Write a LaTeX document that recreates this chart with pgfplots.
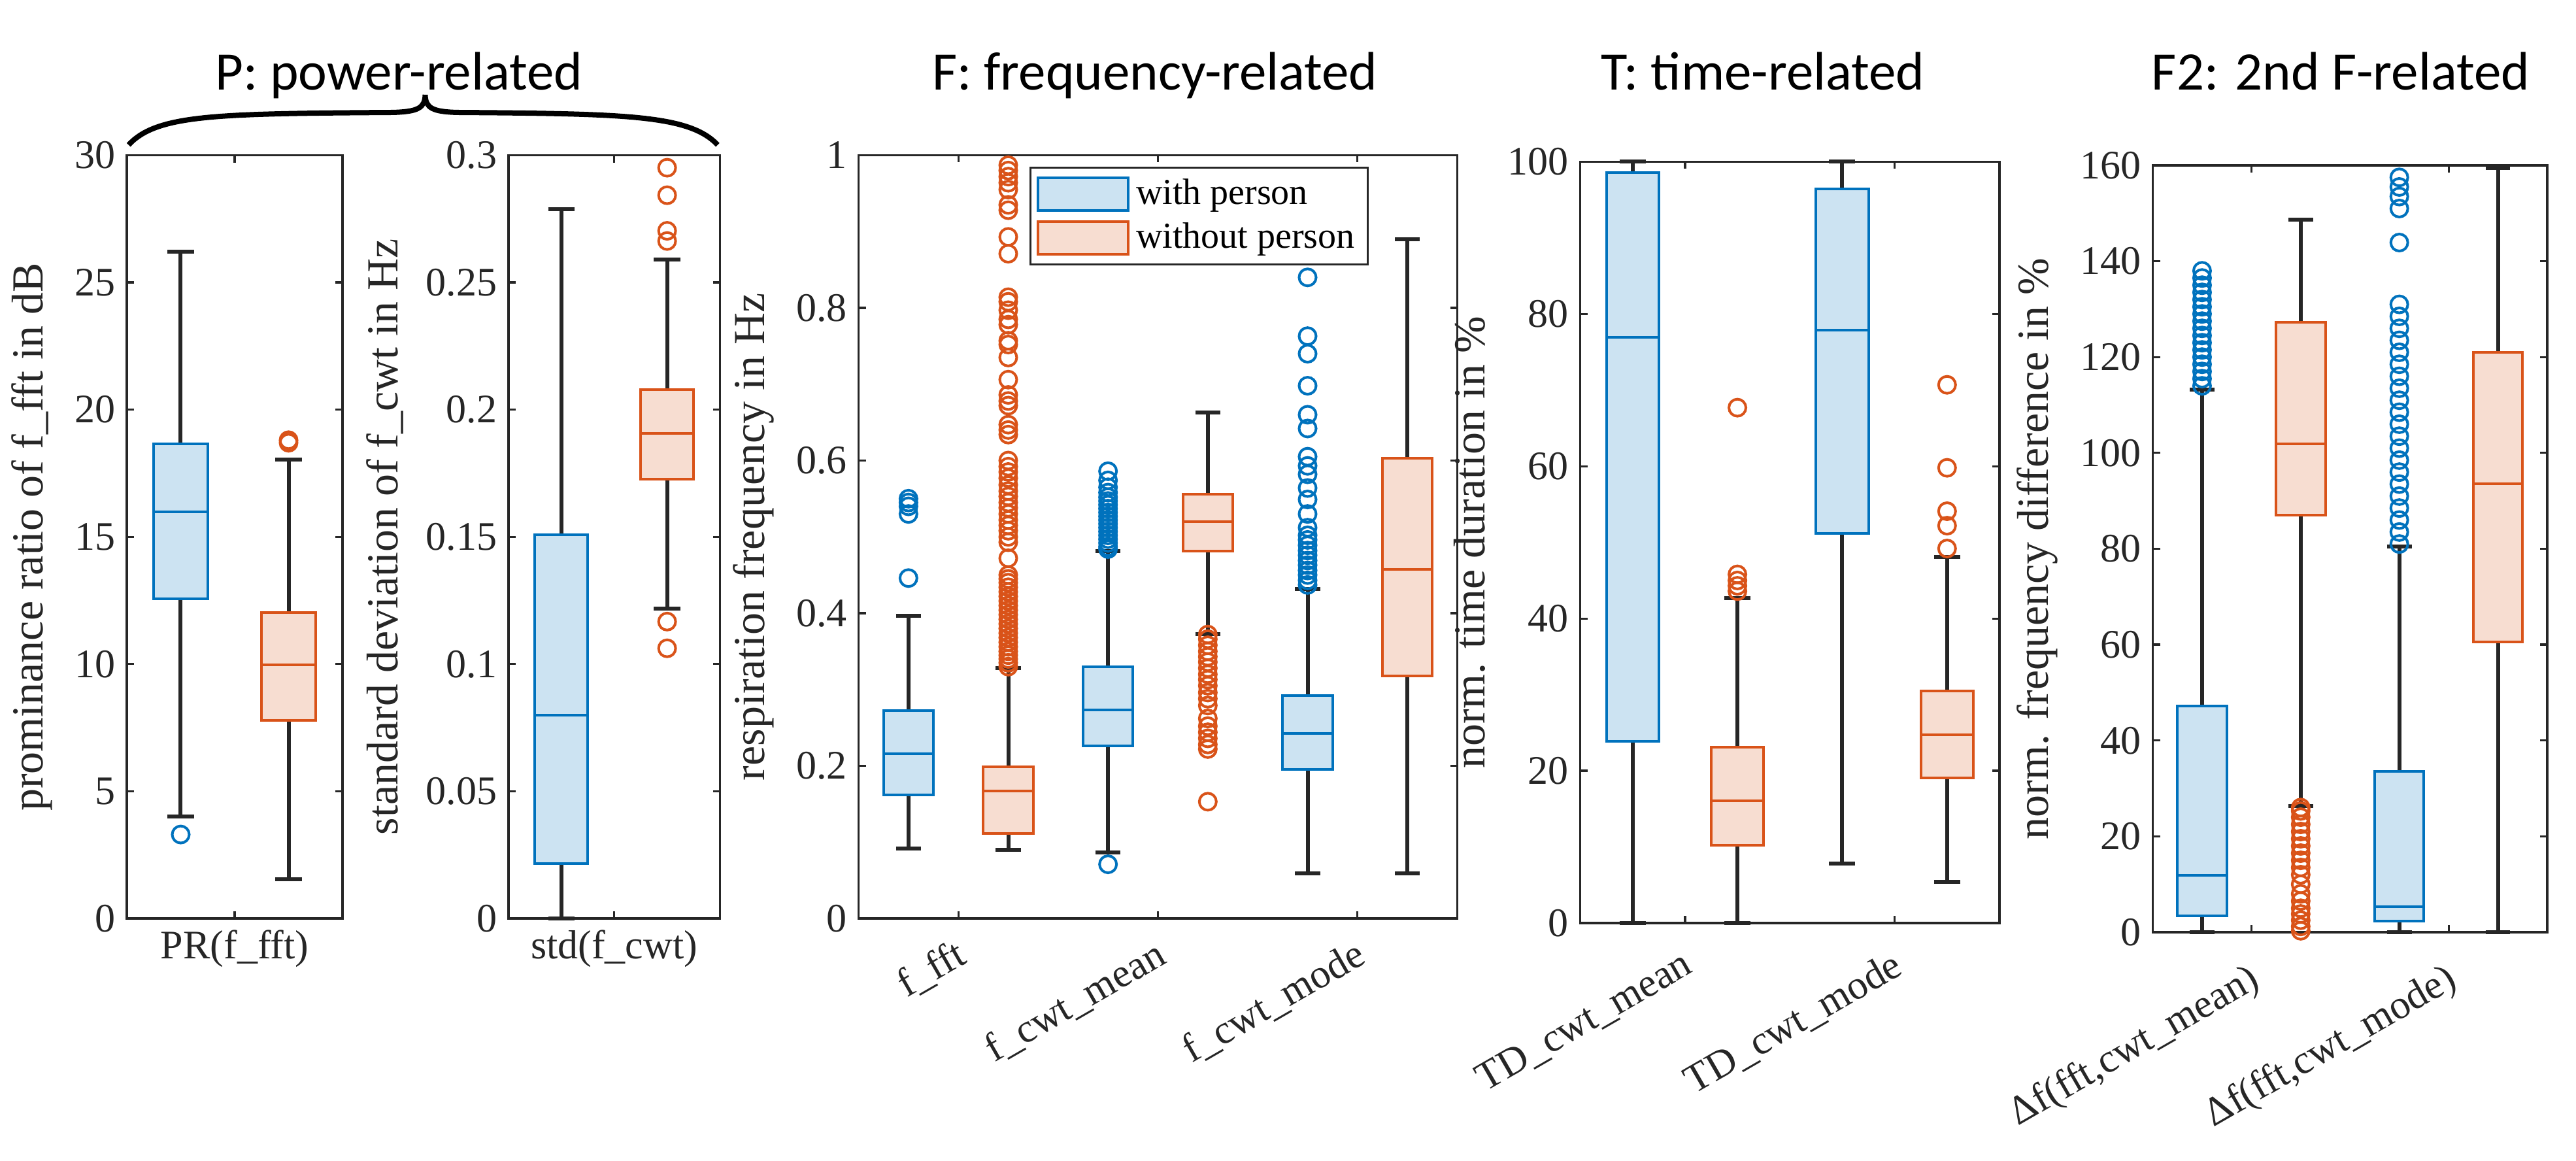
\documentclass[border=0pt]{standalone}
\usepackage{fontspec}
\setmainfont{Liberation Serif}
\newfontfamily\titlefont{Carlito}
\usepackage{pgfplots}
\pgfplotsset{compat=1.18}
\usepgfplotslibrary{statistics}

\definecolor{mblue}{HTML}{0072BD}
\definecolor{mbluef}{HTML}{CCE3F2}
\definecolor{morange}{HTML}{D95319}
\definecolor{morangef}{HTML}{F7DDD1}
\definecolor{mgray}{HTML}{262626}

\newcommand\tickfont{\fontsize{12.4}{14}\selectfont}
\newcommand\labfont{\fontsize{13.6}{15}\selectfont}
\newcommand\legfont{\fontsize{11.2}{13.6}\selectfont}
\newcommand\ttlfont{\titlefont\fontsize{16.6}{19}\selectfont}

\pgfplotsset{
  panel/.style={
    scale only axis, anchor=south west, clip=false,
    axis line style={mgray, line width=0.65pt},
    every tick/.style={mgray, line width=0.65pt},
    major tick length=2.2pt, tick align=inside,
    ticklabel style={font=\tickfont, text=mgray, /pgf/number format/assume math mode=true},
    label style={font=\labfont, text=mgray},
    scaled y ticks=false,
    yticklabel style={/pgf/number format/fixed, /pgf/number format/precision=2},
    ymin=0,
  },
  rot/.style={xticklabel style={anchor=north east, yshift=#1, rotate=30}},
  bstyle/.style={mblue, mark=o, mark size=2.6pt, mark options={line width=0.8pt}, forget plot,
    boxplot/every box/.style={draw=mblue, fill=mbluef, line width=0.8pt},
    boxplot/every median/.style={draw=mblue, line width=0.8pt},
    boxplot/every whisker/.style={draw=mgray, line width=1.2pt}},
  ostyle/.style={morange, mark=o, mark size=2.6pt, mark options={line width=0.8pt}, forget plot,
    boxplot/every box/.style={draw=morange, fill=morangef, line width=0.8pt},
    boxplot/every median/.style={draw=morange, line width=0.8pt},
    boxplot/every whisker/.style={draw=mgray, line width=1.2pt}},
}

% style, position, lower whisker, Q1, median, Q3, upper whisker
\newcommand\bx[7]{\addplot[#1, boxplot prepared={draw direction=y, draw position=#2,
  lower whisker=#3, lower quartile=#4, median=#5, upper quartile=#6,
  upper whisker=#7, box extend=0.25, whisker extend=0.125}]}

\begin{document}
\begin{tikzpicture}
\useasboundingbox (0,0) rectangle (788.2pt,-355.2pt);

% P: power ratio
\begin{axis}[panel, at={(38.8pt,-281.0pt)}, width=66pt, height=233.5pt,
  xmin=0.5, xmax=1.5, xtick={1}, xticklabels={PR(f\_fft)},
  ymax=30, ytick={0,5,10,15,20,25,30},
  ylabel={prominance ratio of f\_fft in dB}]
\bx{bstyle}{0.75}{4.0}{12.56}{15.98}{18.66}{26.2} table[row sep=\\,y index=0] {data\\3.3\\};
\bx{ostyle}{1.25}{1.54}{7.78}{9.98}{12.03}{18.03} table[row sep=\\,y index=0] {data\\18.7\\18.8\\};
\end{axis}

% P: std
\begin{axis}[panel, at={(155.6pt,-281.0pt)}, width=64.7pt, height=233.5pt,
  xmin=0.5, xmax=1.5, xtick={1}, xticklabels={std(f\_cwt)},
  ymax=0.3, ytick={0,0.05,0.1,0.15,0.2,0.25,0.3},
  ylabel={standard deviation of f\_cwt in Hz}]
\bx{bstyle}{0.75}{0}{0.0216}{0.0799}{0.1508}{0.2787} coordinates {};
\bx{ostyle}{1.25}{0.1219}{0.1727}{0.1907}{0.2079}{0.259} table[row sep=\\,y index=0] {data\\0.2951\\0.2843\\0.2703\\0.2663\\0.1167\\0.1062\\};
\end{axis}

% F: frequency
\begin{axis}[panel, rot=-1pt, at={(262.7pt,-281.0pt)}, width=183.2pt, height=233.5pt,
  xmin=0.5, xmax=3.5, xtick={1,2,3}, xticklabels={f\_fft, f\_cwt\_mean, f\_cwt\_mode},
  ymax=1, ytick={0,0.2,0.4,0.6,0.8,1},
  ylabel={respiration frequency in Hz},
  legend style={at={(rel axis cs:0.285,0.985)}, anchor=north west, draw=mgray,
    line width=0.6pt, fill=white, font=\legfont, inner xsep=2pt, inner ysep=1.5pt,
    cells={anchor=west}},
  legend cell align=left]
\addlegendimage{legend image code/.code={\draw[draw=mblue, fill=mbluef, line width=0.8pt] (0pt,-5pt) rectangle (27.6pt,5pt);}}
\addlegendentry{with person}
\addlegendimage{legend image code/.code={\draw[draw=morange, fill=morangef, line width=0.8pt] (0pt,-5pt) rectangle (27.6pt,5pt);}}
\addlegendentry{without person}
\bx{bstyle}{0.75}{0.092}{0.162}{0.216}{0.272}{0.397} table[row sep=\\,y index=0] {data\\0.550\\0.545\\0.540\\0.530\\0.446\\};
\bx{ostyle}{1.25}{0.090}{0.111}{0.167}{0.199}{0.328} table[row sep=\\,y index=0] {data\\
0.987\\0.980\\0.972\\0.964\\0.955\\0.935\\0.928\\0.893\\0.871\\0.814\\0.808\\0.797\\0.785\\0.778\\
0.757\\0.752\\0.735\\0.706\\0.686\\0.678\\0.672\\0.647\\0.640\\0.634\\0.600\\0.592\\0.585\\0.577\\
0.568\\0.560\\0.553\\0.545\\0.538\\0.530\\0.522\\0.515\\0.508\\0.500\\0.493\\0.472\\0.450\\0.445\\
0.440\\0.434\\0.428\\0.422\\0.416\\0.410\\0.404\\0.398\\0.392\\0.386\\0.380\\0.374\\0.368\\0.362\\
0.356\\0.350\\0.345\\0.340\\0.335\\0.330\\};
\bx{bstyle}{1.75}{0.0867}{0.226}{0.273}{0.330}{0.481} table[row sep=\\,y index=0] {data\\
0.586\\0.574\\0.565\\0.558\\0.552\\0.547\\0.542\\0.537\\0.532\\0.527\\0.522\\0.517\\0.512\\0.507\\
0.502\\0.497\\0.492\\0.487\\0.484\\0.071\\};
\bx{ostyle}{2.25}{0.3726}{0.481}{0.520}{0.5555}{0.663} table[row sep=\\,y index=0] {data\\
0.372\\0.366\\0.358\\0.350\\0.343\\0.336\\0.328\\0.320\\0.313\\0.305\\0.296\\0.288\\0.279\\0.262\\
0.252\\0.244\\0.236\\0.228\\0.222\\0.153\\};
\bx{bstyle}{2.75}{0.059}{0.195}{0.2424}{0.292}{0.432} table[row sep=\\,y index=0] {data\\
0.840\\0.763\\0.740\\0.698\\0.660\\0.642\\0.605\\0.593\\0.582\\0.564\\0.549\\0.530\\0.512\\0.502\\
0.496\\0.489\\0.482\\0.476\\0.469\\0.463\\0.456\\0.450\\0.443\\0.437\\};
\bx{ostyle}{3.25}{0.059}{0.318}{0.4577}{0.603}{0.890} coordinates {};
\end{axis}

% T: time
\begin{axis}[panel, rot=-3pt, at={(483.5pt,-282.4pt)}, width=128.3pt, height=232.9pt,
  xmin=0.5, xmax=2.5, xtick={1,2}, xticklabels={TD\_cwt\_mean, TD\_cwt\_mode},
  ymax=100, ytick={0,20,40,60,80,100},
  ylabel={norm. time duration in \%}]
\bx{bstyle}{0.75}{0}{23.9}{76.9}{98.6}{100} coordinates {};
\bx{ostyle}{1.25}{0}{10.2}{16.1}{23.1}{42.7} table[row sep=\\,y index=0] {data\\67.7\\45.8\\45.0\\44.3\\43.6\\};
\bx{bstyle}{1.75}{7.8}{51.2}{77.9}{96.4}{100} coordinates {};
\bx{ostyle}{2.25}{5.4}{19.1}{24.7}{30.5}{48.1} table[row sep=\\,y index=0] {data\\70.7\\59.8\\54.1\\52.2\\49.2\\};
\end{axis}

% F2: second frequency
\begin{axis}[panel, rot=-4pt, at={(658.7pt,-285.2pt)}, width=120.7pt, height=234.6pt,
  xmin=0.5, xmax=2.5, xtick={1,2}, xticklabels={{Δf(fft,cwt\_mean)}, {Δf(fft,cwt\_mode)}},
  ymax=160, ytick={0,20,40,60,80,100,120,140,160},
  ylabel={norm. frequency difference in \%}]
\bx{bstyle}{0.75}{0}{3.4}{11.9}{47.2}{113.2} table[row sep=\\,y index=0] {data\\
114\\115.5\\117\\118.5\\120\\121.5\\123\\124.5\\126\\127.5\\129\\130.5\\132\\133.5\\135\\136.5\\138\\};
\bx{ostyle}{1.25}{26.3}{87.0}{101.9}{127.3}{148.7} table[row sep=\\,y index=0] {data\\
0.3\\1.2\\2.5\\3.8\\5.0\\6.5\\8.0\\10.0\\12.0\\13.5\\15.0\\16.5\\18.0\\19.5\\21.0\\22.5\\24.0\\25.3\\26.0\\};
\bx{bstyle}{1.75}{0}{2.3}{5.3}{33.6}{80.5} table[row sep=\\,y index=0] {data\\
81\\83.5\\86\\88.5\\91\\93.5\\96\\98.5\\101\\103.5\\106\\108.5\\111\\113.5\\116\\118.5\\121\\123.5\\
126\\128.5\\131\\143.9\\151.0\\153.5\\155.5\\157.5\\};
\bx{ostyle}{2.25}{0}{60.6}{93.6}{121.0}{159.5} coordinates {};
\end{axis}

\begin{scope}[x=0.2pt, y=-0.2pt]
\draw[line width=1.6pt, black] (196.7,221.7) .. controls (240,175) and (330,174) .. (600,172)
  .. controls (640,171) and (650,165) .. (650.5,145)
  .. controls (651,165) and (661,171) .. (700,172)
  .. controls (960,174) and (1055,176) .. (1098,221.7);
\node[font=\ttlfont, anchor=base] at (610,138) {P: power-related};
\node[font=\ttlfont, anchor=base] at (1767,138) {F: frequency-related};
\node[font=\ttlfont, anchor=base] at (2697,138) {T: time-related};
\node[font=\ttlfont, anchor=base] at (3581,138) {F2: 2nd F-related};
\end{scope}
\end{tikzpicture}
\end{document}
